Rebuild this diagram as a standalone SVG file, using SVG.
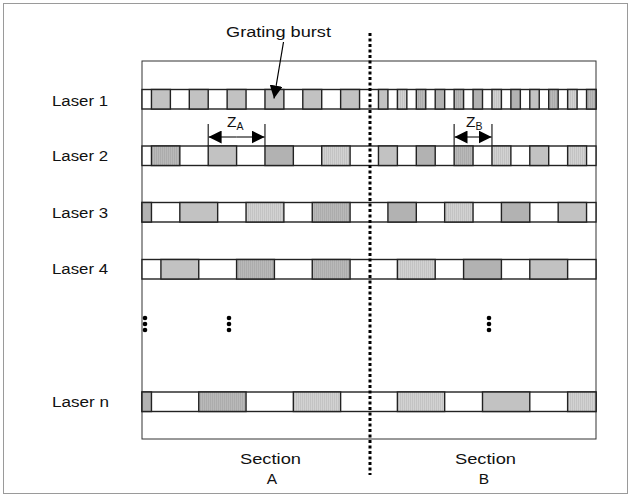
<svg xmlns="http://www.w3.org/2000/svg" width="631" height="497" viewBox="0 0 631 497">
  <style>
    .lbl { font-family: "Liberation Sans", Arial, sans-serif; font-size: 15.5px; fill: #111; }
    .frame { fill: none; stroke: #333; stroke-width: 1; }
    .row { fill: #fff; stroke: #222; stroke-width: 1.4; }
    .cell { stroke: #222; stroke-width: 1.4; }
    .smooth { fill: #c2c2c2; }
    .dark { fill: #b2b2b2; }
    .vdark { fill: url(#vstripeDark); }
    .vlight { fill: url(#vstripeLight); }
    .dim { stroke: #222; stroke-width: 1.2; fill: none; }
  </style>
  <defs>
    <pattern id="vstripeDark" width="2" height="4" patternUnits="userSpaceOnUse">
      <rect width="2" height="4" fill="#b9b9b9"/>
      <rect width="1" height="4" fill="#acacac"/>
    </pattern>
    <pattern id="vstripeLight" width="2" height="4" patternUnits="userSpaceOnUse">
      <rect width="2" height="4" fill="#d2d2d2"/>
      <rect width="1" height="4" fill="#c3c3c3"/>
    </pattern>
    <marker id="tip" viewBox="0 0 12 12" refX="12" refY="6" markerWidth="13" markerHeight="13" markerUnits="userSpaceOnUse" orient="auto">
      <path d="M0,0 L12,6 L0,12 Z" fill="#000"/>
    </marker>
  </defs>

  <!-- outer border and plot frame -->
  <rect x="3.5" y="3.5" width="624" height="490" fill="#fff" stroke="#9a9a9a" stroke-width="1"/>
  <rect class="frame" x="142" y="61" width="454" height="378"/>

  <!-- laser rows -->
  <g id="laser1">
    <text class="lbl" x="52" y="105.5" textLength="56" lengthAdjust="spacingAndGlyphs">Laser 1</text>
    <rect class="row" x="142" y="89.5" width="454" height="19.5"/>
    <rect class="cell smooth" x="151.46" y="89.5" width="18.92" height="19.5"/>
    <rect class="cell smooth" x="189.29" y="89.5" width="18.92" height="19.5"/>
    <rect class="cell smooth" x="227.13" y="89.5" width="18.92" height="19.5"/>
    <rect class="cell smooth" x="264.96" y="89.5" width="18.92" height="19.5"/>
    <rect class="cell smooth" x="302.79" y="89.5" width="18.92" height="19.5"/>
    <rect class="cell smooth" x="340.63" y="89.5" width="18.92" height="19.5"/>
    <rect class="cell smooth" x="378.46" y="89.5" width="9.46" height="19.5"/>
    <rect class="cell vlight" x="397.38" y="89.5" width="9.46" height="19.5"/>
    <rect class="cell vdark" x="416.29" y="89.5" width="9.46" height="19.5"/>
    <rect class="cell dark" x="435.21" y="89.5" width="9.46" height="19.5"/>
    <rect class="cell vdark" x="454.13" y="89.5" width="9.46" height="19.5"/>
    <rect class="cell dark" x="473.04" y="89.5" width="9.46" height="19.5"/>
    <rect class="cell vlight" x="491.96" y="89.5" width="9.46" height="19.5"/>
    <rect class="cell dark" x="510.88" y="89.5" width="9.46" height="19.5"/>
    <rect class="cell smooth" x="529.79" y="89.5" width="9.46" height="19.5"/>
    <rect class="cell vdark" x="548.71" y="89.5" width="9.46" height="19.5"/>
    <rect class="cell vlight" x="567.63" y="89.5" width="9.46" height="19.5"/>
    <rect class="cell vdark" x="586.54" y="89.5" width="9.46" height="19.5"/>
  </g>

  <g id="laser2">
    <text class="lbl" x="52" y="160.5" textLength="56" lengthAdjust="spacingAndGlyphs">Laser 2</text>
    <rect class="row" x="142" y="146" width="454" height="19.5"/>
    <rect class="cell vdark" x="151.46" y="146" width="28.38" height="19.5"/>
    <rect class="cell smooth" x="208.21" y="146" width="28.38" height="19.5"/>
    <rect class="cell dark" x="264.96" y="146" width="28.38" height="19.5"/>
    <rect class="cell vlight" x="321.71" y="146" width="28.38" height="19.5"/>
    <rect class="cell smooth" x="378.46" y="146" width="18.92" height="19.5"/>
    <rect class="cell dark" x="416.29" y="146" width="18.92" height="19.5" stroke-width="2"/>
    <rect class="cell vdark" x="454.13" y="146" width="18.92" height="19.5"/>
    <rect class="cell vlight" x="491.96" y="146" width="18.92" height="19.5"/>
    <rect class="cell smooth" x="529.79" y="146" width="18.92" height="19.5"/>
    <rect class="cell vlight" x="567.63" y="146" width="18.92" height="19.5"/>
  </g>

  <g id="laser3">
    <text class="lbl" x="52" y="217.5" textLength="56" lengthAdjust="spacingAndGlyphs">Laser 3</text>
    <rect class="row" x="142" y="202.5" width="454" height="19.5"/>
    <rect class="cell dark" x="142" y="202.5" width="9.46" height="19.5"/>
    <rect class="cell smooth" x="179.83" y="202.5" width="37.83" height="19.5"/>
    <rect class="cell vlight" x="246.04" y="202.5" width="37.83" height="19.5"/>
    <rect class="cell vdark" x="312.25" y="202.5" width="37.83" height="19.5"/>
    <rect class="cell dark" x="387.92" y="202.5" width="28.38" height="19.5"/>
    <rect class="cell vlight" x="444.67" y="202.5" width="28.38" height="19.5"/>
    <rect class="cell dark" x="501.42" y="202.5" width="28.38" height="19.5"/>
    <rect class="cell smooth" x="558.17" y="202.5" width="28.38" height="19.5"/>
  </g>

  <g id="laser4">
    <text class="lbl" x="52" y="274" textLength="56" lengthAdjust="spacingAndGlyphs">Laser 4</text>
    <rect class="row" x="142" y="259.5" width="454" height="19.5"/>
    <rect class="cell smooth" x="160.92" y="259.5" width="37.83" height="19.5"/>
    <rect class="cell vdark" x="236.58" y="259.5" width="37.83" height="19.5"/>
    <rect class="cell vdark" x="312.25" y="259.5" width="37.83" height="19.5"/>
    <rect class="cell vlight" x="397.38" y="259.5" width="37.83" height="19.5"/>
    <rect class="cell dark" x="463.58" y="259.5" width="37.83" height="19.5"/>
    <rect class="cell smooth" x="529.79" y="259.5" width="37.83" height="19.5"/>
  </g>

  <g id="ellipsis">
    <circle cx="145" cy="318" r="2.3" fill="#000"/>
    <circle cx="145" cy="324" r="2.3" fill="#000"/>
    <circle cx="145" cy="330" r="2.3" fill="#000"/>
    <circle cx="229" cy="318" r="2.3" fill="#000"/>
    <circle cx="229" cy="324" r="2.3" fill="#000"/>
    <circle cx="229" cy="330" r="2.3" fill="#000"/>
    <circle cx="489" cy="318" r="2.3" fill="#000"/>
    <circle cx="489" cy="324" r="2.3" fill="#000"/>
    <circle cx="489" cy="330" r="2.3" fill="#000"/>
  </g>

  <g id="lasern">
    <text class="lbl" x="52" y="406.5" textLength="57" lengthAdjust="spacingAndGlyphs">Laser n</text>
    <rect class="row" x="142" y="392" width="454" height="19.5"/>
    <rect class="cell dark" x="142" y="392" width="9.46" height="19.5"/>
    <rect class="cell vdark" x="198.75" y="392" width="47.29" height="19.5"/>
    <rect class="cell vlight" x="293.33" y="392" width="47.29" height="19.5"/>
    <rect class="cell vlight" x="397.38" y="392" width="47.29" height="19.5"/>
    <rect class="cell smooth" x="482.5" y="392" width="47.29" height="19.5"/>
    <rect class="cell vlight" x="567.63" y="392" width="28.37" height="19.5"/>
  </g>

  <!-- section divider -->
  <line x1="370" y1="33" x2="370" y2="475" stroke="#000" stroke-width="3" stroke-dasharray="3 2.5"/>

  <!-- annotations -->
  <g id="connectors">
    <line x1="283.5" y1="42" x2="274" y2="98.5" stroke="#000" stroke-width="1.2" marker-end="url(#tip)"/>
    <line class="dim" x1="208.21" y1="124" x2="208.21" y2="146"/>
    <line class="dim" x1="264.96" y1="124" x2="264.96" y2="146"/>
    <line class="dim" x1="236.6" y1="137" x2="208.6" y2="137" marker-end="url(#tip)"/>
    <line class="dim" x1="236.6" y1="137" x2="264.6" y2="137" marker-end="url(#tip)"/>
    <line class="dim" x1="454.13" y1="124" x2="454.13" y2="146"/>
    <line class="dim" x1="491.96" y1="124" x2="491.96" y2="146"/>
    <line class="dim" x1="473" y1="137" x2="454.5" y2="137" marker-end="url(#tip)"/>
    <line class="dim" x1="473" y1="137" x2="491.6" y2="137" marker-end="url(#tip)"/>
  </g>

  <g id="labels">
    <text class="lbl" x="226" y="37" font-size="16" textLength="105" lengthAdjust="spacingAndGlyphs">Grating burst</text>
    <text class="lbl" x="227" y="127" font-size="16">Z<tspan font-size="10.5" dy="3">A</tspan></text>
    <text class="lbl" x="466" y="127" font-size="16">Z<tspan font-size="10.5" dy="3">B</tspan></text>
    <text class="lbl" x="240" y="464" font-size="16" textLength="61" lengthAdjust="spacingAndGlyphs">Section</text>
    <text class="lbl" x="272" y="484" font-size="16" text-anchor="middle">A</text>
    <text class="lbl" x="455" y="464" font-size="16" textLength="61" lengthAdjust="spacingAndGlyphs">Section</text>
    <text class="lbl" x="484" y="484" font-size="16" text-anchor="middle">B</text>
  </g>
</svg>
